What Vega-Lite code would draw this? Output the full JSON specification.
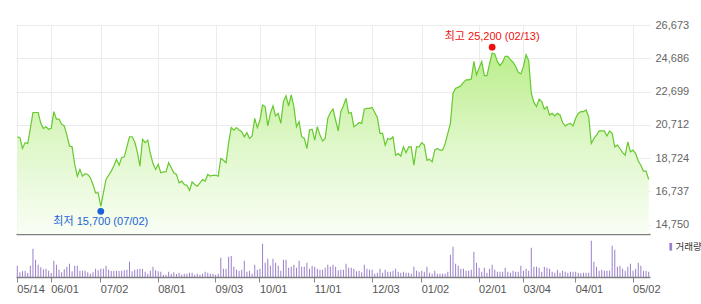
{
"$schema": "https://vega.github.io/schema/vega-lite/v6.json",
"background": "white",
"padding": {"left": 14, "top": 19, "right": 0, "bottom": 0},
"spacing": 1,
"bounds": "flush",
"config": {"view": {"stroke": null}, "font": "Liberation Sans, Noto Sans CJK KR"},
"datasets": {
"stock": [
{"d":"2018-05-14","close":20000,"vol":340000},{"d":"2018-05-15","close":19950,"vol":140000},{"d":"2018-05-16","close":19300,"vol":170000},{"d":"2018-05-17","close":19650,"vol":190000},{"d":"2018-05-18","close":19600,"vol":120000},{"d":"2018-05-21","close":20500,"vol":340000},{"d":"2018-05-23","close":21450,"vol":850000},{"d":"2018-05-24","close":21450,"vol":520000},{"d":"2018-05-25","close":21450,"vol":370000},{"d":"2018-05-28","close":20800,"vol":290000},{"d":"2018-05-29","close":20500,"vol":230000},{"d":"2018-05-30","close":20600,"vol":250000},{"d":"2018-05-31","close":20450,"vol":190000},
{"d":"2018-06-01","close":20500,"vol":120000},{"d":"2018-06-04","close":21500,"vol":490000},{"d":"2018-06-05","close":21050,"vol":370000},{"d":"2018-06-07","close":21050,"vol":220000},{"d":"2018-06-08","close":20750,"vol":140000},{"d":"2018-06-11","close":20650,"vol":230000},{"d":"2018-06-12","close":20100,"vol":310000},{"d":"2018-06-14","close":19450,"vol":400000},{"d":"2018-06-15","close":19400,"vol":170000},{"d":"2018-06-18","close":18350,"vol":340000},{"d":"2018-06-19","close":17650,"vol":340000},{"d":"2018-06-20","close":18050,"vol":190000},{"d":"2018-06-21","close":17650,"vol":190000},{"d":"2018-06-22","close":17800,"vol":190000},{"d":"2018-06-25","close":17750,"vol":140000},{"d":"2018-06-26","close":17550,"vol":100000},{"d":"2018-06-27","close":17150,"vol":140000},{"d":"2018-06-28","close":16650,"vol":250000},{"d":"2018-06-29","close":16650,"vol":200000},
{"d":"2018-07-02","close":15850,"vol":250000},{"d":"2018-07-03","close":16650,"vol":250000},{"d":"2018-07-04","close":17450,"vol":340000},{"d":"2018-07-05","close":17700,"vol":220000},{"d":"2018-07-06","close":17950,"vol":180000},{"d":"2018-07-09","close":18250,"vol":180000},{"d":"2018-07-10","close":18650,"vol":190000},{"d":"2018-07-11","close":18300,"vol":180000},{"d":"2018-07-12","close":18750,"vol":190000},{"d":"2018-07-13","close":18800,"vol":200000},{"d":"2018-07-16","close":19400,"vol":220000},{"d":"2018-07-17","close":20000,"vol":460000},{"d":"2018-07-18","close":20000,"vol":170000},{"d":"2018-07-19","close":19700,"vol":220000},{"d":"2018-07-20","close":19100,"vol":230000},{"d":"2018-07-23","close":18250,"vol":250000},{"d":"2018-07-24","close":19850,"vol":250000},{"d":"2018-07-25","close":19650,"vol":160000},{"d":"2018-07-26","close":19800,"vol":100000},{"d":"2018-07-27","close":19000,"vol":190000},{"d":"2018-07-30","close":18400,"vol":310000},{"d":"2018-07-31","close":18050,"vol":200000},
{"d":"2018-08-01","close":18350,"vol":170000},{"d":"2018-08-02","close":17850,"vol":160000},{"d":"2018-08-03","close":17900,"vol":70000},{"d":"2018-08-06","close":17900,"vol":70000},{"d":"2018-08-07","close":18450,"vol":160000},{"d":"2018-08-08","close":18150,"vol":90000},{"d":"2018-08-09","close":17850,"vol":140000},{"d":"2018-08-10","close":17750,"vol":90000},{"d":"2018-08-13","close":17250,"vol":130000},{"d":"2018-08-14","close":17350,"vol":70000},{"d":"2018-08-16","close":17150,"vol":100000},{"d":"2018-08-17","close":17100,"vol":100000},{"d":"2018-08-20","close":16800,"vol":130000},{"d":"2018-08-21","close":17300,"vol":130000},{"d":"2018-08-22","close":17150,"vol":70000},{"d":"2018-08-23","close":17050,"vol":100000},{"d":"2018-08-24","close":17250,"vol":70000},{"d":"2018-08-27","close":17450,"vol":100000},{"d":"2018-08-28","close":17350,"vol":160000},{"d":"2018-08-29","close":17750,"vol":130000},{"d":"2018-08-30","close":17650,"vol":100000},{"d":"2018-08-31","close":17700,"vol":100000},
{"d":"2018-09-03","close":17700,"vol":70000},{"d":"2018-09-04","close":17650,"vol":100000},{"d":"2018-09-05","close":18700,"vol":580000},{"d":"2018-09-06","close":18600,"vol":250000},{"d":"2018-09-07","close":18450,"vol":250000},{"d":"2018-09-10","close":19650,"vol":610000},{"d":"2018-09-11","close":20550,"vol":630000},{"d":"2018-09-12","close":20400,"vol":310000},{"d":"2018-09-13","close":20550,"vol":220000},{"d":"2018-09-14","close":20400,"vol":190000},{"d":"2018-09-17","close":20300,"vol":220000},{"d":"2018-09-18","close":20000,"vol":490000},{"d":"2018-09-19","close":20250,"vol":160000},{"d":"2018-09-20","close":19900,"vol":190000},{"d":"2018-09-21","close":20050,"vol":100000},{"d":"2018-09-27","close":21100,"vol":370000},{"d":"2018-09-28","close":20550,"vol":220000},
{"d":"2018-10-01","close":21000,"vol":250000},{"d":"2018-10-02","close":21900,"vol":1000000},{"d":"2018-10-04","close":21800,"vol":430000},{"d":"2018-10-05","close":20650,"vol":550000},{"d":"2018-10-08","close":21400,"vol":340000},{"d":"2018-10-10","close":21850,"vol":550000},{"d":"2018-10-11","close":21250,"vol":430000},{"d":"2018-10-12","close":21400,"vol":340000},{"d":"2018-10-15","close":20800,"vol":190000},{"d":"2018-10-16","close":22100,"vol":520000},{"d":"2018-10-17","close":22450,"vol":520000},{"d":"2018-10-18","close":21850,"vol":280000},{"d":"2018-10-19","close":22500,"vol":310000},{"d":"2018-10-22","close":21800,"vol":370000},{"d":"2018-10-23","close":20600,"vol":280000},{"d":"2018-10-24","close":20900,"vol":490000},{"d":"2018-10-25","close":20000,"vol":310000},{"d":"2018-10-26","close":19900,"vol":310000},{"d":"2018-10-29","close":19300,"vol":430000},{"d":"2018-10-30","close":20400,"vol":250000},{"d":"2018-10-31","close":20450,"vol":340000},
{"d":"2018-11-01","close":19800,"vol":310000},{"d":"2018-11-02","close":20600,"vol":250000},{"d":"2018-11-05","close":20100,"vol":220000},{"d":"2018-11-06","close":19750,"vol":220000},{"d":"2018-11-07","close":19900,"vol":280000},{"d":"2018-11-08","close":21100,"vol":370000},{"d":"2018-11-09","close":21450,"vol":310000},{"d":"2018-11-12","close":21650,"vol":370000},{"d":"2018-11-13","close":21000,"vol":310000},{"d":"2018-11-14","close":20350,"vol":200000},{"d":"2018-11-15","close":21500,"vol":220000},{"d":"2018-11-16","close":21850,"vol":220000},{"d":"2018-11-19","close":22300,"vol":400000},{"d":"2018-11-20","close":21400,"vol":280000},{"d":"2018-11-21","close":21450,"vol":280000},{"d":"2018-11-22","close":20600,"vol":250000},{"d":"2018-11-23","close":20700,"vol":170000},{"d":"2018-11-26","close":20850,"vol":190000},{"d":"2018-11-27","close":20800,"vol":140000},{"d":"2018-11-28","close":21650,"vol":370000},{"d":"2018-11-29","close":21700,"vol":250000},{"d":"2018-11-30","close":21700,"vol":220000},
{"d":"2018-12-03","close":21750,"vol":220000},{"d":"2018-12-04","close":21450,"vol":100000},{"d":"2018-12-05","close":21150,"vol":130000},{"d":"2018-12-06","close":20200,"vol":250000},{"d":"2018-12-07","close":20200,"vol":130000},{"d":"2018-12-10","close":19500,"vol":220000},{"d":"2018-12-11","close":19900,"vol":160000},{"d":"2018-12-12","close":19850,"vol":160000},{"d":"2018-12-13","close":20000,"vol":190000},{"d":"2018-12-14","close":18900,"vol":250000},{"d":"2018-12-17","close":19000,"vol":160000},{"d":"2018-12-18","close":18850,"vol":130000},{"d":"2018-12-19","close":19400,"vol":160000},{"d":"2018-12-20","close":19050,"vol":130000},{"d":"2018-12-21","close":19400,"vol":130000},{"d":"2018-12-24","close":19400,"vol":100000},{"d":"2018-12-26","close":18300,"vol":310000},{"d":"2018-12-27","close":19400,"vol":190000},{"d":"2018-12-28","close":19400,"vol":160000},
{"d":"2019-01-02","close":19650,"vol":190000},{"d":"2019-01-03","close":19500,"vol":160000},{"d":"2019-01-04","close":18600,"vol":310000},{"d":"2019-01-07","close":18650,"vol":130000},{"d":"2019-01-08","close":18500,"vol":100000},{"d":"2019-01-09","close":19200,"vol":190000},{"d":"2019-01-10","close":19300,"vol":100000},{"d":"2019-01-11","close":19200,"vol":100000},{"d":"2019-01-14","close":19200,"vol":100000},{"d":"2019-01-15","close":19600,"vol":100000},{"d":"2019-01-16","close":20200,"vol":160000},{"d":"2019-01-17","close":20800,"vol":670000},{"d":"2019-01-18","close":22600,"vol":910000},{"d":"2019-01-21","close":22900,"vol":400000},{"d":"2019-01-22","close":22950,"vol":340000},{"d":"2019-01-23","close":23050,"vol":250000},{"d":"2019-01-24","close":23250,"vol":250000},{"d":"2019-01-25","close":23400,"vol":190000},{"d":"2019-01-28","close":23400,"vol":190000},{"d":"2019-01-29","close":23450,"vol":220000},{"d":"2019-01-30","close":24500,"vol":760000},{"d":"2019-01-31","close":23700,"vol":430000},
{"d":"2019-02-01","close":24100,"vol":280000},{"d":"2019-02-07","close":24500,"vol":160000},{"d":"2019-02-08","close":23650,"vol":280000},{"d":"2019-02-11","close":23650,"vol":130000},{"d":"2019-02-12","close":24350,"vol":250000},{"d":"2019-02-13","close":25000,"vol":370000},{"d":"2019-02-14","close":24950,"vol":220000},{"d":"2019-02-15","close":24500,"vol":160000},{"d":"2019-02-18","close":24250,"vol":160000},{"d":"2019-02-19","close":24450,"vol":160000},{"d":"2019-02-20","close":24800,"vol":280000},{"d":"2019-02-21","close":24800,"vol":160000},{"d":"2019-02-22","close":24600,"vol":130000},{"d":"2019-02-25","close":24450,"vol":190000},{"d":"2019-02-26","close":24200,"vol":160000},{"d":"2019-02-27","close":23850,"vol":160000},{"d":"2019-02-28","close":23750,"vol":340000},
{"d":"2019-03-04","close":24200,"vol":190000},{"d":"2019-03-05","close":24900,"vol":250000},{"d":"2019-03-06","close":24550,"vol":190000},{"d":"2019-03-07","close":22600,"vol":880000},{"d":"2019-03-08","close":22050,"vol":310000},{"d":"2019-03-11","close":21800,"vol":310000},{"d":"2019-03-12","close":22250,"vol":280000},{"d":"2019-03-13","close":22100,"vol":160000},{"d":"2019-03-14","close":21650,"vol":310000},{"d":"2019-03-15","close":21800,"vol":280000},{"d":"2019-03-18","close":21300,"vol":250000},{"d":"2019-03-19","close":21400,"vol":160000},{"d":"2019-03-20","close":21250,"vol":130000},{"d":"2019-03-21","close":21400,"vol":220000},{"d":"2019-03-22","close":21300,"vol":130000},{"d":"2019-03-25","close":20850,"vol":190000},{"d":"2019-03-26","close":20650,"vol":160000},{"d":"2019-03-27","close":20750,"vol":130000},{"d":"2019-03-28","close":20800,"vol":160000},{"d":"2019-03-29","close":20650,"vol":160000},
{"d":"2019-04-01","close":21100,"vol":160000},{"d":"2019-04-02","close":21400,"vol":130000},{"d":"2019-04-03","close":21500,"vol":110000},{"d":"2019-04-04","close":21500,"vol":130000},{"d":"2019-04-05","close":21600,"vol":130000},{"d":"2019-04-08","close":21200,"vol":130000},{"d":"2019-04-09","close":19600,"vol":1090000},{"d":"2019-04-10","close":19900,"vol":460000},{"d":"2019-04-11","close":20100,"vol":310000},{"d":"2019-04-12","close":20350,"vol":190000},{"d":"2019-04-15","close":20350,"vol":220000},{"d":"2019-04-16","close":20350,"vol":190000},{"d":"2019-04-17","close":20050,"vol":190000},{"d":"2019-04-18","close":20350,"vol":190000},{"d":"2019-04-19","close":20200,"vol":940000},{"d":"2019-04-22","close":19400,"vol":820000},{"d":"2019-04-23","close":19500,"vol":310000},{"d":"2019-04-24","close":19300,"vol":340000},{"d":"2019-04-25","close":19050,"vol":250000},{"d":"2019-04-26","close":18900,"vol":190000},{"d":"2019-04-29","close":19700,"vol":310000},{"d":"2019-04-30","close":19100,"vol":400000},
{"d":"2019-05-02","close":19200,"vol":190000},{"d":"2019-05-03","close":19000,"vol":250000},{"d":"2019-05-07","close":18550,"vol":430000},{"d":"2019-05-08","close":18300,"vol":340000},{"d":"2019-05-09","close":17950,"vol":190000},{"d":"2019-05-10","close":17950,"vol":190000},{"d":"2019-05-13","close":17450,"vol":160000}
],
"marks": [
{"d":"2019-02-13","price":25200,"label":"최고 25,200 (02/13)","kind":"high"},
{"d":"2018-07-02","price":15700,"label":"최저 15,700 (07/02)","kind":"low"}
]
},
"vconcat": [
{
"width": 634,
"height": 209,
"data": {"name": "stock"},
"encoding": {
"x": {"field": "d", "type": "ordinal", "scale": {"type": "point", "padding": 0.5},
"axis": {"values": ["2018-05-14","2018-06-01","2018-07-02","2018-08-01","2018-09-03","2018-10-01","2018-11-01","2018-12-03","2019-01-02","2019-02-01","2019-03-04","2019-04-01","2019-05-02"],
"grid": true, "gridColor": "#ebebeb", "labels": false, "ticks": false, "domain": true, "domainColor": "#7f7f7f", "domainWidth": 1.5, "title": null}},
"y": {"field": "close", "type": "quantitative", "scale": {"domain": [14194, 26673], "zero": false, "nice": false},
"axis": {"orient": "right", "values": [14750,16737,18724,20712,22699,24686,26673], "format": ",d", "grid": true, "gridColor": "#ebebeb", "ticks": false, "domain": false, "labelColor": "#666666", "labelFontSize": 11, "labelPadding": 5, "title": null}}
},
"layer": [
{"mark": {"type": "area", "color": {"gradient": "linear", "x1": 0, "y1": 0, "x2": 0, "y2": 1, "stops": [{"offset": 0, "color": "#bbee8c"}, {"offset": 0.5, "color": "#dff7c9"}, {"offset": 1, "color": "#f9fef5"}]}},
"encoding": {"y2": {"datum": 14194}}},
{"mark": {"type": "line", "color": "#66c92f", "strokeWidth": 1.2}},
{"data": {"name": "marks"}, "transform": [{"filter": "datum.kind == 'high'"}],
"encoding": {"y": {"field": "price", "type": "quantitative", "scale": {"domain": [14194, 26673], "zero": false, "nice": false},
"axis": {"orient": "right", "values": [14750,16737,18724,20712,22699,24686,26673], "format": ",d", "grid": true, "gridColor": "#ebebeb", "ticks": false, "domain": false, "labelColor": "#666666", "labelFontSize": 11, "labelPadding": 5, "title": null}}},
"layer": [
{"mark": {"type": "point", "filled": true, "opacity": 1, "size": 46, "color": "#ee1111", "yOffset": -2.5}},
{"mark": {"type": "text", "color": "#ee1111", "fontSize": 11, "baseline": "middle", "align": "center", "dy": -13},
"encoding": {"text": {"field": "label"}}}
]},
{"data": {"name": "marks"}, "transform": [{"filter": "datum.kind == 'low'"}],
"encoding": {"y": {"field": "price", "type": "quantitative", "scale": {"domain": [14194, 26673], "zero": false, "nice": false},
"axis": {"orient": "right", "values": [14750,16737,18724,20712,22699,24686,26673], "format": ",d", "grid": true, "gridColor": "#ebebeb", "ticks": false, "domain": false, "labelColor": "#666666", "labelFontSize": 11, "labelPadding": 5, "title": null}}},
"layer": [
{"mark": {"type": "point", "filled": true, "opacity": 1, "size": 46, "color": "#1a62d6", "yOffset": 2.5}},
{"mark": {"type": "text", "color": "#1a62d6", "fontSize": 11, "baseline": "middle", "align": "center", "dy": 13},
"encoding": {"text": {"field": "label"}}}
]}
]
},
{
"width": 634,
"height": 42,
"data": {"name": "stock"},
"mark": {"type": "bar", "width": 1},
"encoding": {
"x": {"field": "d", "type": "ordinal", "scale": {"paddingInner": 0, "paddingOuter": 0},
"axis": {"values": ["2018-05-14","2018-06-01","2018-07-02","2018-08-01","2018-09-03","2018-10-01","2018-11-01","2018-12-03","2019-01-02","2019-02-01","2019-03-04","2019-04-01","2019-05-02"],
"bandPosition": 0.5, "labelExpr": "substring(datum.value, 5, 7) + '/' + substring(datum.value, 8, 10)",
"labelAlign": "left", "labelAngle": 0, "labelBaseline": "top", "labelColor": "#555555", "labelFontSize": 11, "labelPadding": 1, "labelFlush": false,
"ticks": true, "tickSize": 5, "tickColor": "#888888", "domainColor": "#7f7f7f", "domainWidth": 1.5, "grid": false, "title": null}},
"y": {"field": "vol", "type": "quantitative", "scale": {"domain": [0, 1260000]}, "axis": null},
"color": {"datum": "거래량", "type": "nominal", "scale": {"range": ["#9a7fcb"]},
"legend": {"title": null, "orient": "none", "legendX": 650, "legendY": 217, "padding": 0, "symbolType": "M-0.5,-1.4L0.5,-1.4L0.5,1.4L-0.5,1.4Z", "symbolSize": 30, "labelFontSize": 9.5, "labelColor": "#333333", "labelOffset": 0, "labelLimit": 60}}
}
}
]
}
